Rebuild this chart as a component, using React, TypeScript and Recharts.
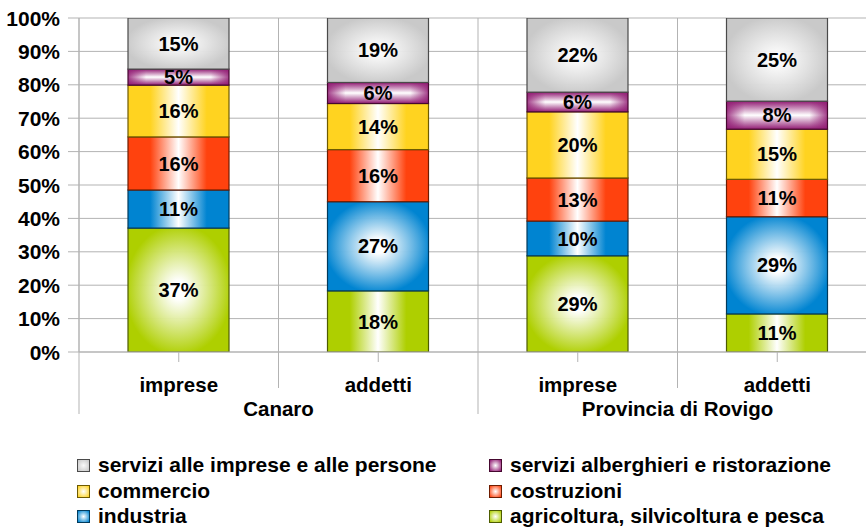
import React from 'react';
import { BarChart, Bar, XAxis, YAxis, CartesianGrid, LabelList } from 'recharts';

// ---- data ----
const groups = ['Canaro', 'Canaro', 'Provincia di Rovigo', 'Provincia di Rovigo'];
const measures = ['imprese', 'addetti', 'imprese', 'addetti'];

const agricoltura = [37.1, 18.3, 28.8, 11.4];
const industria = [11.4, 26.7, 10.4, 29.1];
const costruzioni = [15.9, 15.6, 12.9, 11.2];
const commercio = [15.5, 13.8, 19.8, 15.0];
const alberghieri = [4.8, 6.3, 5.9, 8.4];
const servizi = [15.3, 19.3, 22.2, 24.9];

const yTicks = [0, 10, 20, 30, 40, 50, 60, 70, 80, 90, 100];

const seriesNames = {
  agricoltura: 'agricoltura, silvicoltura e pesca',
  industria: 'industria',
  costruzioni: 'costruzioni',
  commercio: 'commercio',
  alberghieri: 'servizi alberghieri e ristorazione',
  servizi: 'servizi alle imprese e alle persone',
};

// ---- styling ----
const FONT = '"Liberation Sans", Arial, sans-serif';
const GRID = '#b3b3b3';

type Mode = 'auto' | 'radial' | 'vertical';
interface Series { key: string; color: string; light: string; stroke: string; mode: Mode }

const series: Series[] = [
  { key: 'agricoltura', color: '#aecf00', light: '#ffffff', stroke: '#4d5c00', mode: 'auto' },
  { key: 'industria', color: '#0084d1', light: '#ffffff', stroke: '#003a5c', mode: 'auto' },
  { key: 'costruzioni', color: '#ff420e', light: '#ffffff', stroke: '#6e1c00', mode: 'auto' },
  { key: 'commercio', color: '#ffd320', light: '#ffffff', stroke: '#6e5a00', mode: 'auto' },
  { key: 'alberghieri', color: '#921c74', light: '#ffffff', stroke: '#45082f', mode: 'vertical' },
  { key: 'servizi', color: '#c9c9c9', light: '#fafafa', stroke: '#4a4a4a', mode: 'radial' },
];

const valuesByKey: Record<string, number[]> = {
  agricoltura, industria, costruzioni, commercio, alberghieri, servizi,
};

const data = groups.map((g, i) => {
  const row: Record<string, string | number> = { id: `${g}|${measures[i]}`, group: g, measure: measures[i] };
  Object.keys(valuesByKey).forEach((k) => { row[k] = valuesByKey[k][i]; });
  return row;
});

const W = 880;
const H = 527;
const MARGIN = { top: 18, right: 3, bottom: 111, left: 0 };
const X_TICK_SIZE = 10;
const X_TICK_MARGIN = 2;

const makeShape = (s: Series) => (props: any) => {
  const { x, y, width, height } = props;
  if (!height || height <= 0 || !width) return null;
  const id = `grad-${s.key}-${Math.round(x)}-${Math.round(y)}`;
  const mode = s.mode === 'auto' ? (height > 75 ? 'radial' : 'axial') : s.mode;
  let grad: React.ReactNode;
  if (mode === 'radial') {
    grad = (
      <radialGradient id={id} cx="0.5" cy="0.5" r="0.62">
        <stop offset="0" stopColor={s.light} />
        <stop offset="0.12" stopColor={s.light} stopOpacity={0.95} />
        <stop offset="0.85" stopColor={s.color} />
        <stop offset="1" stopColor={s.color} />
      </radialGradient>
    );
  } else if (mode === 'vertical') {
    grad = (
      <linearGradient id={id} x1="0" y1="0" x2="0" y2="1">
        <stop offset="0" stopColor={s.color} />
        <stop offset="0.5" stopColor={s.light} />
        <stop offset="1" stopColor={s.color} />
      </linearGradient>
    );
  } else {
    grad = (
      <linearGradient id={id} x1="0" y1="0" x2="1" y2="0">
        <stop offset="0" stopColor={s.color} />
        <stop offset="0.22" stopColor={s.color} />
        <stop offset="0.5" stopColor={s.light} />
        <stop offset="0.78" stopColor={s.color} />
        <stop offset="1" stopColor={s.color} />
      </linearGradient>
    );
  }
  const edgeId = `${id}-edge`;
  return (
    <g>
      <defs>
        {grad}
        {mode === 'vertical' && (
          <linearGradient id={edgeId} x1="0" y1="0" x2="1" y2="0">
            <stop offset="0" stopColor={s.color} stopOpacity={0.85} />
            <stop offset="0.18" stopColor={s.color} stopOpacity={0} />
            <stop offset="0.82" stopColor={s.color} stopOpacity={0} />
            <stop offset="1" stopColor={s.color} stopOpacity={0.85} />
          </linearGradient>
        )}
      </defs>
      <rect x={x} y={y} width={width} height={height} fill={`url(#${id})`} />
      {mode === 'vertical' && <rect x={x} y={y} width={width} height={height} fill={`url(#${edgeId})`} />}
      <rect x={x} y={y} width={width} height={height} fill="none" stroke={s.stroke} strokeWidth={1.2} />
    </g>
  );
};

const YTick = (props: any) => {
  const { x, y, payload } = props;
  return (
    <text x={x} y={y} dy="0.36em" textAnchor="end" fontFamily={FONT} fontWeight="bold" fontSize={21} fill="#000">
      {`${payload.value}%`}
    </text>
  );
};

const XTick = (props: any) => {
  const { x, y, payload, index } = props;
  const n = data.length;
  const off = payload && typeof payload.offset === 'number' && payload.offset > 0 ? payload.offset : 99.75;
  const plotBottom = y - X_TICK_SIZE - X_TICK_MARGIN;
  const idx = data.findIndex((d) => d.id === payload.value);
  const i = idx >= 0 ? idx : index;
  const xl = x - off;
  const longLen = 62;
  const shortLen = 36;
  return (
    <g>
      <line x1={xl} x2={xl} y1={plotBottom} y2={plotBottom + (i % 2 === 0 ? longLen : shortLen)} stroke={GRID} strokeWidth={1} />
      {i === n - 1 && (
        <line x1={x + off} x2={x + off} y1={plotBottom} y2={plotBottom + longLen} stroke={GRID} strokeWidth={1} />
      )}
      <text x={x} y={plotBottom + 40} textAnchor="middle" fontFamily={FONT} fontWeight="bold" fontSize={20.5} fill="#000">
        {measures[i]}
      </text>
      {i % 2 === 1 && (
        <text x={xl} y={plotBottom + 64} textAnchor="middle" fontFamily={FONT} fontWeight="bold" fontSize={20.5} fill="#000">
          {groups[i]}
        </text>
      )}
    </g>
  );
};

const legendOrder = ['servizi', 'alberghieri', 'commercio', 'costruzioni', 'industria', 'agricoltura'];

const Legend6 = () => (
  <div style={{ position: 'absolute', left: 0, top: 452, width: 866 }}>
    {legendOrder.map((k, i) => {
      const s = series.find((q) => q.key === k)!;
      const col = i % 2;
      const row = Math.floor(i / 2);
      return (
        <div
          key={k}
          style={{
            position: 'absolute',
            left: col === 0 ? 77 : 489,
            top: row * 25.5,
            height: 25,
            lineHeight: '25px',
            whiteSpace: 'nowrap',
            fontFamily: FONT,
            fontWeight: 'bold',
            fontSize: 21,
            color: '#000',
            display: 'flex',
            alignItems: 'center',
          }}
        >
          <span
            style={{
              display: 'inline-block',
              width: 11,
              height: 11,
              border: `1px solid ${s.stroke}`,
              background: `radial-gradient(circle, ${s.light} 0%, ${s.color} 95%)`,
              marginRight: 8,
              marginTop: 2,
            }}
          />
          <span>{(seriesNames as any)[k]}</span>
        </div>
      );
    })}
  </div>
);

export default function App() {
  return (
    <div style={{ position: 'absolute', left: 0, top: 0, width: 866, height: 527, overflow: 'hidden', background: '#fff' }}>
      <BarChart width={W} height={H} data={data} margin={MARGIN} barSize={101}>
        <CartesianGrid
          stroke={GRID}
          strokeWidth={1}
          vertical
          horizontal
          verticalCoordinatesGenerator={({ offset }: any) => {
            const n = data.length;
            const w = offset.width / n;
            return Array.from({ length: n + 1 }, (_, k) => offset.left + k * w);
          }}
        />
        <XAxis
          dataKey="id"
          height={64}
          interval={0}
          tickSize={X_TICK_SIZE}
          tickMargin={X_TICK_MARGIN}
          axisLine={{ stroke: GRID }}
          tickLine={{ stroke: GRID }}
          tick={<XTick />}
        />
        <YAxis
          width={79}
          domain={[0, 100]}
          ticks={yTicks}
          interval={0}
          tickSize={11}
          tickMargin={8}
          axisLine={{ stroke: GRID }}
          tickLine={{ stroke: GRID }}
          tick={<YTick />}
          allowDataOverflow
        />
        {series.map((s) => (
          <Bar key={s.key} dataKey={s.key} name={(seriesNames as any)[s.key]} stackId="a" isAnimationActive={false} shape={makeShape(s)}>
            <LabelList
              dataKey={s.key}
              position="center"
              formatter={(v: any) => `${Math.round(Number(v))}%`}
              style={{ fontFamily: FONT, fontWeight: 'bold', fontSize: 20, fill: '#000' }}
            />
          </Bar>
        ))}
      </BarChart>
      <Legend6 />
    </div>
  );
}
